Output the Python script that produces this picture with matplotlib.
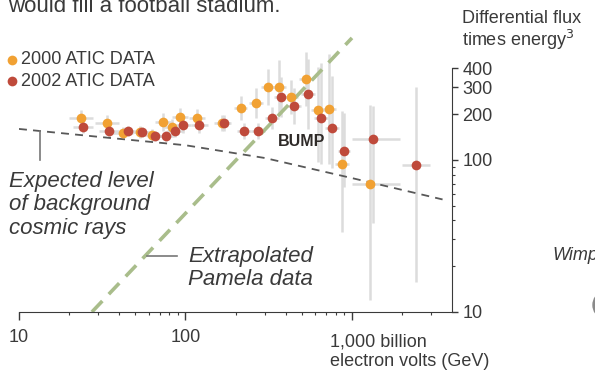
import numpy as np
import matplotlib
matplotlib.use("Agg")
import matplotlib.pyplot as plt
from matplotlib.lines import Line2D
from matplotlib.patches import Circle

plt.rcParams['font.family'] = ['Liberation Sans', 'DejaVu Sans']

# --- data (energy in GeV, flux x E^3) ---
atic2000_e = [23.6, 33.8, 42.1, 53.3, 63, 73.3, 83.0, 92.7, 117, 166,
              215, 265, 313, 364, 431, 530, 626, 728, 871, 1283]
atic2000_f = [189, 175, 151, 153, 146, 178, 165, 192, 189, 175,
              220, 237, 302, 302, 259, 341, 213, 217, 94, 69.5]
# error sizes in decades (down / up, left / right)
atic2000_ydn = [.05, .05, .04, .04, .04, .06, .05, .06, .06, .05,
                .08, .10, .12, .18, .11, .18, .34, .36, .45, .76]
atic2000_yup = [.05, .05, .04, .04, .04, .06, .05, .06, .06, .05,
                .08, .10, .12, .18, .11, .18, .28, .36, .35, .52]
atic2000_xdn = [.07, .07, .06, .05, .05, .05, .05, .05, .05, .05,
                .04, .04, .04, .04, .04, .04, .04, .04, .045, .11]
atic2000_xup = [.07, .07, .06, .05, .05, .05, .05, .05, .05, .05,
                .04, .04, .04, .04, .04, .04, .04, .04, .045, .18]

atic2002_e = [24.2, 34.7, 45.1, 54.8, 65.6, 76.4, 86.5, 96.6, 121, 170,
              225, 272, 331, 375, 449, 544, 651, 759, 896, 1337, 2421]
atic2002_f = [165, 155, 155, 153, 144, 144, 155, 170, 170, 175,
              155, 155, 189, 259, 226, 272, 189, 162, 115, 137, 93]
atic2002_ydn = [.04, .04, .035, .035, .035, .035, .04, .05, .05, .05,
                .05, .05, .07, .13, .12, .23, .30, .26, .24, .55, .77]
atic2002_yup = [.04, .04, .035, .035, .035, .035, .04, .05, .05, .05,
                .05, .05, .07, .13, .12, .23, .36, .34, .25, .22, .51]
atic2002_xdn = [.06, .06, .05, .05, .05, .05, .05, .05, .05, .04,
                .04, .04, .04, .04, .04, .04, .04, .04, .036, .126, .085]
atic2002_xup = [.06, .06, .05, .05, .05, .05, .05, .05, .05, .04,
                .04, .04, .04, .04, .04, .04, .04, .04, .036, .162, .085]

background_e = [10, 30, 100, 300, 1000, 3500]
background_f = [160, 142, 125, 103, 76, 55]

pamela_e = [27.4, 1000]
pamela_f = [10, 635]

ytick_vals = [10, 100, 200, 300, 400]
ytick_labels = ["10", "100", "200", "300", "400"]

ORANGE = "#F1A133"
RED = "#BF4A3B"
TXT = "#3a3a3a"
W, H = 595, 372


def fx(px):
    return px / W


def fy(py):
    return 1 - py / H


def errs(vals, dn, up):
    v = np.array(vals, dtype=float)
    return [v - v * 10 ** -np.array(dn), v * 10 ** np.array(up) - v]


fig = plt.figure(figsize=(5.95, 3.72), dpi=100)
ax = fig.add_axes([fx(19), fy(312), (452 - 19) / W, (312 - 30) / H])
ax.set_xscale("log")
ax.set_yscale("log")
ax.set_xlim(10, 3988)
ax.set_ylim(10, 716)

# lines
ax.plot(pamela_e, pamela_f, color="#A9BD8B", lw=2.6, dashes=(4.2, 2.6), zorder=1)
ax.plot(background_e, background_f, color="#585858", lw=1.3, dashes=(4.4, 3.4), zorder=2)

# error bars
ax.errorbar(atic2000_e, atic2000_f,
            xerr=errs(atic2000_e, atic2000_xdn, atic2000_xup),
            yerr=errs(atic2000_f, atic2000_ydn, atic2000_yup),
            fmt="none", ecolor="#dcdcdc", elinewidth=1.8, capsize=0, zorder=0)
ax.errorbar(atic2002_e, atic2002_f,
            xerr=errs(atic2002_e, atic2002_xdn, atic2002_xup),
            yerr=errs(atic2002_f, atic2002_ydn, atic2002_yup),
            fmt="none", ecolor="#dcdcdc", elinewidth=1.8, capsize=0, zorder=0)

ax.plot(atic2000_e, atic2000_f, "o", color=ORANGE, ms=7, mec="none", zorder=3)
ax.plot(atic2002_e, atic2002_f, "o", color=RED, ms=7, mec="none", zorder=4)

# axes styling
for s in ["top", "left"]:
    ax.spines[s].set_visible(False)
ax.spines["right"].set_bounds(10, 400)
ax.spines["right"].set_color(TXT)
ax.spines["bottom"].set_color(TXT)
ax.patch.set_alpha(0)

ax.yaxis.tick_right()
ax.set_yticks(ytick_vals)
ax.set_yticklabels(ytick_labels)
ax.set_yticks([20, 30, 40, 50, 60, 70, 80, 90], minor=True)
ax.yaxis.set_minor_formatter(plt.NullFormatter())
ax.tick_params(axis="y", which="major", direction="out", length=4.5, width=1,
               color=TXT, labelsize=13, labelcolor=TXT, pad=3)
ax.tick_params(axis="y", which="minor", direction="out", length=2.5, width=0.8, color=TXT)

ax.set_xticks([10, 100, 1000])
ax.set_xticklabels(["10", "100", ""])
ax.set_xticks([20, 30, 40, 50, 60, 70, 80, 90, 200, 300, 400, 500, 600, 700,
               800, 900, 2000, 3000], minor=True)
ax.xaxis.set_minor_formatter(plt.NullFormatter())
ax.tick_params(axis="x", which="major", direction="out", length=6, width=1,
               color=TXT, labelsize=13, labelcolor=TXT, pad=6)
ax.tick_params(axis="x", which="minor", direction="out", length=2.5, width=0.8, color=TXT)

# legend-style labels
fig.add_artist(Line2D([fx(12)], [fy(60)], marker="o", color=ORANGE, ms=7, mec="none"))
fig.add_artist(Line2D([fx(12)], [fy(81)], marker="o", color=RED, ms=7, mec="none"))
fig.text(fx(21), fy(60), "2000 ATIC DATA", fontsize=13, color=TXT, va="center")
fig.text(fx(21), fy(81), "2002 ATIC DATA", fontsize=13, color=TXT, va="center")

fig.text(fx(302), fy(142), "BUMP", fontsize=11.5, fontweight="bold", color="#2e2a28",
         ha="center", va="center")

fig.add_artist(Line2D([fx(40), fx(40)], [fy(131), fy(160)], color="#777777", lw=1.2))
fig.text(fx(9), fy(205), "Expected level\nof background\ncosmic rays", fontsize=16,
         style="italic", color=TXT, va="center", linespacing=1.13)

fig.add_artist(Line2D([fx(147), fx(177)], [fy(256), fy(256)], color="#777777", lw=1.2))
fig.text(fx(188), fy(268), "Extrapolated\nPamela data", fontsize=16, style="italic",
         color=TXT, va="center", linespacing=1.13)

fig.text(fx(462), fy(31), "Differential flux\ntimes energy$^3$", fontsize=13, color=TXT,
         va="center", linespacing=1.1)
fig.text(fx(330), fy(352), "1,000 billion\nelectron volts (GeV)", fontsize=13, color=TXT,
         va="center", linespacing=1.2)

# fragments of surrounding page
fig.text(fx(8), fy(12), "would fill a football stadium.", fontsize=16, color=TXT,
         va="baseline")
fig.text(fx(552), fy(255), "Wimp", fontsize=13, style="italic", color=TXT, va="center")
fig.add_artist(Circle((fx(628), fy(305)), 35 / W, transform=fig.transFigure,
                      color="#8a8a8a"))

fig.savefig("out.png", dpi=100)
